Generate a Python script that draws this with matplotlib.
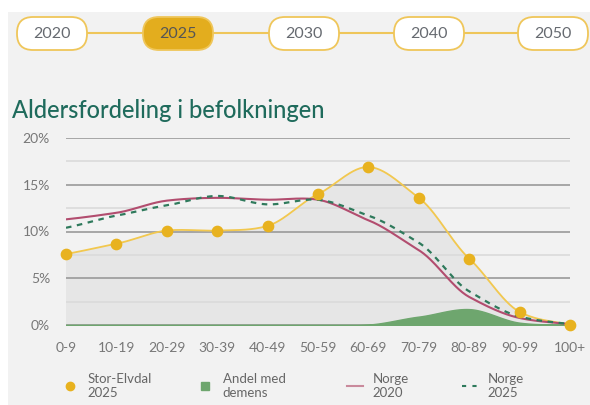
import numpy as np
import matplotlib.pyplot as plt
from matplotlib.patches import FancyBboxPatch, Rectangle
from matplotlib.lines import Line2D

plt.rcParams['font.family'] = ['Lato', 'DejaVu Sans']

# age groups and values (percent)
age_groups = ["0-9", "10-19", "20-29", "30-39", "40-49", "50-59",
              "60-69", "70-79", "80-89", "90-99", "100+"]
stor_elvdal_2025 = [7.6, 8.7, 10.1, 10.1, 10.6, 14.0, 16.9, 13.6, 7.1, 1.4, 0.05]
andel_demens = [0, 0, 0, 0, 0, 0, 0.05, 0.9, 1.7, 0.25, 0.02]
norge_2020 = [11.3, 12.0, 13.3, 13.6, 13.4, 13.4, 11.2, 8.0, 3.0, 0.75, 0.1]
norge_2025 = [10.4, 11.7, 12.8, 13.8, 12.9, 13.4, 11.7, 8.8, 3.6, 0.9, 0.1]
years = ["2020", "2025", "2030", "2040", "2050"]
active_year = "2025"
y_ticks = [0, 5, 10, 15, 20]


def smooth(y, n=30):
    # cubic hermite curve through the points, for drawing
    y = np.asarray(y, dtype=float)
    x = np.arange(len(y))
    m = np.gradient(y) * 0.8
    xs, ys = [], []
    for i in range(len(y) - 1):
        t = np.linspace(0, 1, n, endpoint=False)
        h00 = 2 * t**3 - 3 * t**2 + 1
        h10 = t**3 - 2 * t**2 + t
        h01 = -2 * t**3 + 3 * t**2
        h11 = t**3 - t**2
        xs.append(x[i] + t)
        ys.append(h00 * y[i] + h10 * m[i] + h01 * y[i + 1] + h11 * m[i + 1])
    xs.append([x[-1]])
    ys.append([y[-1]])
    return np.concatenate(xs), np.clip(np.concatenate(ys), 0, None)


W, H = 590, 405
fig = plt.figure(figsize=(W / 100, H / 100), dpi=100)
fig.patch.set_facecolor("white")

# background / timeline layer
tl = fig.add_axes([0, 0, 1, 1], facecolor="none", zorder=0)
tl.set_xlim(0, W)
tl.set_ylim(H, 0)
tl.axis("off")
tl.add_patch(Rectangle((8, 12), W, H, facecolor="#f2f2f2", edgecolor="none", zorder=0))
centers = [52, 178, 304, 429, 553]
tl.plot([centers[0], centers[-1]], [33, 33], color="#efc65a", lw=1.5, zorder=1)
for cx, yr in zip(centers, years):
    active = yr == active_year
    tl.add_patch(FancyBboxPatch((cx - 35, 17), 70, 33,
                                boxstyle="round,pad=0,rounding_size=16",
                                facecolor="#e3ad1e" if active else "white",
                                edgecolor="#efc65a", lw=1.3, zorder=2))
    tl.text(cx, 34, yr, ha="center", va="center", fontsize=11.5,
            color="#555555" if active else "#666a70", zorder=3)

tl.text(12, 111, "Aldersfordeling i befolkningen", fontsize=17, fontweight="medium",
        color="#1f6b5c", ha="left", va="center")

# main chart
ax = fig.add_axes([66 / W, 80 / H, 504 / W, 187 / H], facecolor="none", zorder=2)
ax.set_xlim(0, 10)
ax.set_ylim(0, 20)
for s in ax.spines.values():
    s.set_visible(False)
for v in np.arange(0, 20.1, 2.5):
    major = v % 5 == 0
    ax.axhline(v, color="#9a9a9a" if major else "#dadada", lw=1.2, zorder=2.5)

x = np.arange(len(age_groups))
xs, ys = smooth(stor_elvdal_2025)
ax.fill_between(xs, 0, ys, color="#e6e6e6", zorder=2)
xd, yd = smooth(andel_demens)
ax.fill_between(xd, 0, yd, color="#6ea66e", zorder=3)
ax.plot(xs, ys, color="#f2c84f", lw=1.3, zorder=4)
x1, y1 = smooth(norge_2020)
ax.plot(x1, y1, color="#b24d6f", lw=1.5, zorder=5)
x2, y2 = smooth(norge_2025)
ax.plot(x2, y2, color="#2f7a5c", lw=1.6, ls=(0, (2.5, 2.5)), zorder=6)
ax.scatter(x, stor_elvdal_2025, s=55, color="#e8b21f", zorder=7, clip_on=False)

ax.set_yticks(y_ticks)
ax.set_yticklabels([f"{v}%" for v in y_ticks])
ax.set_xticks(x)
ax.set_xticklabels(age_groups)
ax.tick_params(length=0, colors="#777777", labelsize=10)
ax.tick_params(axis="y", pad=11.5)
ax.tick_params(axis="x", pad=12)

# legend, one entry each so the columns sit where they do in the original
leg_items = [
    (Line2D([], [], marker="o", ls="none", color="#e8b21f", markersize=6), "Stor-Elvdal\n2025", 62),
    (Line2D([], [], marker="s", ls="none", color="#6ea66e", markersize=6), "Andel med\ndemens", 197),
    (Line2D([], [], color="#c98a9c", lw=1.5), "Norge\n2020", 347),
    (Line2D([], [], color="#2f7a5c", lw=1.5, ls=(0, (2, 3))), "Norge\n2025", 462),
]
for handle, label, x0 in leg_items:
    fig.legend([handle], [label], loc="center left",
               bbox_to_anchor=(x0 / W, 1 - 386 / H), frameon=False,
               fontsize=9.5, labelcolor="#666666", borderpad=0, borderaxespad=0,
               handlelength=1.2, handletextpad=0.75)

fig.savefig("out.png", dpi=100)
